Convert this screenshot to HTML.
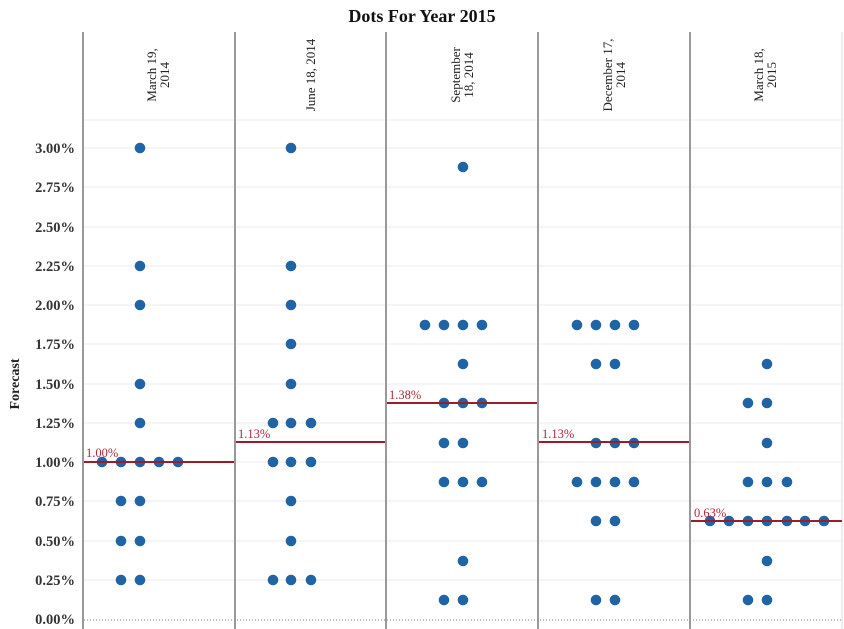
<!DOCTYPE html>
<html><head><meta charset="utf-8"><style>
html,body{margin:0;padding:0;background:#fff;}
svg{display:block;font-family:"Liberation Serif",serif;}
</style></head><body>
<svg width="844" height="629" viewBox="0 0 844 629" xmlns="http://www.w3.org/2000/svg">
<text x="422" y="22" text-anchor="middle" font-size="18" font-weight="bold" fill="#111">Dots For Year 2015</text>
<g stroke="#ebebeb" stroke-width="1">
<line x1="84" x2="842" y1="148" y2="148"/><line x1="84" x2="842" y1="187" y2="187"/>
<line x1="84" x2="842" y1="227" y2="227"/><line x1="84" x2="842" y1="266" y2="266"/>
<line x1="84" x2="842" y1="305" y2="305"/><line x1="84" x2="842" y1="344" y2="344"/>
<line x1="84" x2="842" y1="384" y2="384"/><line x1="84" x2="842" y1="423" y2="423"/>
<line x1="84" x2="842" y1="462" y2="462"/><line x1="84" x2="842" y1="501" y2="501"/>
<line x1="84" x2="842" y1="541" y2="541"/><line x1="84" x2="842" y1="580" y2="580"/>
<line x1="84" x2="842" y1="120" y2="120"/>
</g>
<line x1="84" x2="842" y1="620" y2="620" stroke="#777" stroke-dasharray="1,2"/>
<g stroke="#999" stroke-width="2">
<line x1="83" x2="83" y1="32" y2="629"/><line x1="235" x2="235" y1="32" y2="629"/>
<line x1="386" x2="386" y1="32" y2="629"/><line x1="538" x2="538" y1="32" y2="629"/>
<line x1="690" x2="690" y1="32" y2="629"/>
</g>
<line x1="842" x2="842" y1="32" y2="629" stroke="#ddd" stroke-width="1"/>
<g font-size="14.5" font-weight="bold" fill="#333" text-anchor="end">
<text x="75" y="153">3.00%</text><text x="75" y="192">2.75%</text><text x="75" y="232">2.50%</text>
<text x="75" y="271">2.25%</text><text x="75" y="310">2.00%</text><text x="75" y="349">1.75%</text>
<text x="75" y="389">1.50%</text><text x="75" y="428">1.25%</text><text x="75" y="467">1.00%</text>
<text x="75" y="506">0.75%</text><text x="75" y="546">0.50%</text><text x="75" y="585">0.25%</text>
<text x="75" y="624">0.00%</text>
</g>
<text transform="translate(19,384) rotate(-90)" text-anchor="middle" font-size="14" font-weight="bold" fill="#222">Forecast</text>
<g font-size="13" fill="#222" text-anchor="middle">
<text transform="translate(156,75) rotate(-90)"><tspan x="0" dy="0">March 19,</tspan><tspan x="0" dy="13">2014</tspan></text>
<text transform="translate(315,75) rotate(-90)">June 18, 2014</text>
<text transform="translate(460,75) rotate(-90)"><tspan x="0" dy="0">September</tspan><tspan x="0" dy="13">18, 2014</tspan></text>
<text transform="translate(612,75) rotate(-90)"><tspan x="0" dy="0">December 17,</tspan><tspan x="0" dy="13">2014</tspan></text>
<text transform="translate(763,75) rotate(-90)"><tspan x="0" dy="0">March 18,</tspan><tspan x="0" dy="13">2015</tspan></text>
</g>
<g fill="#1f65a6">
<circle cx="140" cy="148" r="5.3"/><circle cx="140" cy="266" r="5.3"/><circle cx="140" cy="305" r="5.3"/>
<circle cx="140" cy="384" r="5.3"/><circle cx="140" cy="423" r="5.3"/>
<circle cx="102" cy="462" r="5.3"/><circle cx="121" cy="462" r="5.3"/><circle cx="140" cy="462" r="5.3"/><circle cx="159" cy="462" r="5.3"/><circle cx="178" cy="462" r="5.3"/>
<circle cx="121" cy="501" r="5.3"/><circle cx="140" cy="501" r="5.3"/>
<circle cx="121" cy="541" r="5.3"/><circle cx="140" cy="541" r="5.3"/>
<circle cx="121" cy="580" r="5.3"/><circle cx="140" cy="580" r="5.3"/>

<circle cx="291" cy="148" r="5.3"/><circle cx="291" cy="266" r="5.3"/><circle cx="291" cy="305" r="5.3"/>
<circle cx="291" cy="344" r="5.3"/><circle cx="291" cy="384" r="5.3"/>
<circle cx="273" cy="423" r="5.3"/><circle cx="291" cy="423" r="5.3"/><circle cx="311" cy="423" r="5.3"/>
<circle cx="273" cy="462" r="5.3"/><circle cx="291" cy="462" r="5.3"/><circle cx="311" cy="462" r="5.3"/>
<circle cx="291" cy="501" r="5.3"/><circle cx="291" cy="541" r="5.3"/>
<circle cx="273" cy="580" r="5.3"/><circle cx="291" cy="580" r="5.3"/><circle cx="311" cy="580" r="5.3"/>

<circle cx="463" cy="167" r="5.3"/>
<circle cx="425" cy="325" r="5.3"/><circle cx="444" cy="325" r="5.3"/><circle cx="463" cy="325" r="5.3"/><circle cx="482" cy="325" r="5.3"/>
<circle cx="463" cy="364" r="5.3"/>
<circle cx="444" cy="403" r="5.3"/><circle cx="463" cy="403" r="5.3"/><circle cx="482" cy="403" r="5.3"/>
<circle cx="444" cy="443" r="5.3"/><circle cx="463" cy="443" r="5.3"/>
<circle cx="444" cy="482" r="5.3"/><circle cx="463" cy="482" r="5.3"/><circle cx="482" cy="482" r="5.3"/>
<circle cx="463" cy="561" r="5.3"/>
<circle cx="444" cy="600" r="5.3"/><circle cx="463" cy="600" r="5.3"/>

<circle cx="577" cy="325" r="5.3"/><circle cx="596" cy="325" r="5.3"/><circle cx="615" cy="325" r="5.3"/><circle cx="634" cy="325" r="5.3"/>
<circle cx="596" cy="364" r="5.3"/><circle cx="615" cy="364" r="5.3"/>
<circle cx="596" cy="443" r="5.3"/><circle cx="615" cy="443" r="5.3"/><circle cx="634" cy="443" r="5.3"/>
<circle cx="577" cy="482" r="5.3"/><circle cx="596" cy="482" r="5.3"/><circle cx="615" cy="482" r="5.3"/><circle cx="634" cy="482" r="5.3"/>
<circle cx="596" cy="521" r="5.3"/><circle cx="615" cy="521" r="5.3"/>
<circle cx="596" cy="600" r="5.3"/><circle cx="615" cy="600" r="5.3"/>

<circle cx="767" cy="364" r="5.3"/>
<circle cx="748" cy="403" r="5.3"/><circle cx="767" cy="403" r="5.3"/>
<circle cx="767" cy="443" r="5.3"/>
<circle cx="748" cy="482" r="5.3"/><circle cx="767" cy="482" r="5.3"/><circle cx="787" cy="482" r="5.3"/>
<circle cx="710" cy="521" r="5.3"/><circle cx="729" cy="521" r="5.3"/><circle cx="748" cy="521" r="5.3"/><circle cx="767" cy="521" r="5.3"/><circle cx="787" cy="521" r="5.3"/><circle cx="805" cy="521" r="5.3"/><circle cx="824" cy="521" r="5.3"/>
<circle cx="767" cy="561" r="5.3"/>
<circle cx="748" cy="600" r="5.3"/><circle cx="767" cy="600" r="5.3"/>
</g>
<g stroke="#9b1c2c" stroke-width="2">
<line x1="84" x2="234" y1="462" y2="462"/>
<line x1="236" x2="385" y1="442" y2="442"/>
<line x1="387" x2="537" y1="403" y2="403"/>
<line x1="539" x2="689" y1="442" y2="442"/>
<line x1="691" x2="842" y1="521" y2="521"/>
</g>
<g font-size="12.5" fill="#b0283a">
<text x="86" y="457">1.00%</text>
<text x="238" y="438">1.13%</text>
<text x="389" y="399">1.38%</text>
<text x="542" y="438">1.13%</text>
<text x="694" y="517">0.63%</text>
</g>
</svg>
</body></html>
